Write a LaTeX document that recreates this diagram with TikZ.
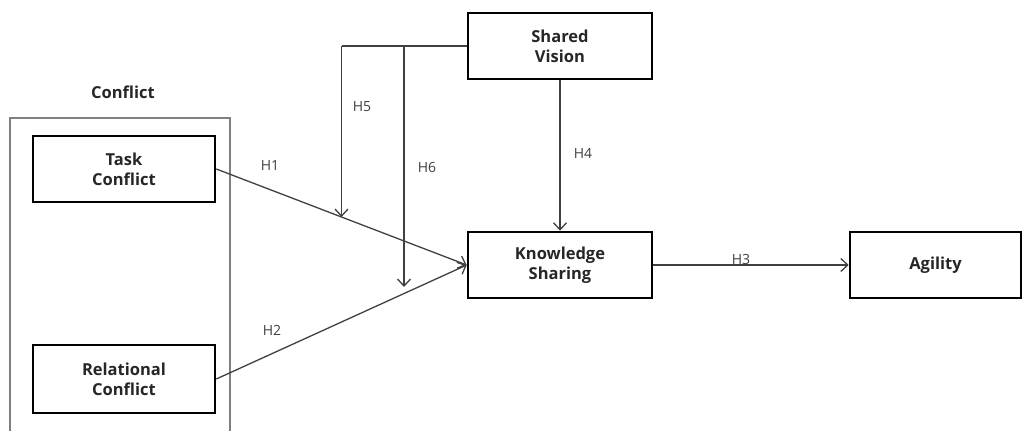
\documentclass[tikz,border=0pt]{standalone}
\usepackage{fontspec}
\setmainfont{Open Sans}
\usetikzlibrary{arrows.meta, positioning}

\begin{document}
\begin{tikzpicture}[
        x=1pt, y=-1pt,
        construct/.style={rectangle, minimum width=184pt, minimum height=66pt, text centered, draw=black, line width=2.6pt, align=center, font=\fontsize{16.5}{20}\selectfont\bfseries, text=black!85},
        hyp/.style={font=\fontsize{14}{16}\selectfont, text=black!75},
        arrow/.style={line width=1.3pt, draw=black!75, -{Straight Barb[length=7pt,width=13pt]}},
        link/.style={line width=1.3pt, draw=black!75}
    ]
        \useasboundingbox (0,0) rectangle (1024,431);

        % Conflict group
        \draw [line width=1.5pt, draw=black!50] (10,431) |- (230,118) -- (230,431);
        \node (conflicthead) [font=\fontsize{16.5}{20}\selectfont\bfseries, text=black!85] at (123,92) {Conflict};
        \node (task) [construct, minimum width=182pt] at (124,169) {Task\\Conflict};
        \node (relational) [construct, minimum width=182pt, minimum height=68pt] at (124,379) {Relational\\Conflict};

        % Mediator, moderator, outcome
        \node (vision) [construct] at (560,46) {Shared\\Vision};
        \node (sharing) [construct] at (560,265) {Knowledge\\Sharing};
        \node (agility) [construct, minimum width=171pt] at (935.5,265) {Agility};

        % Direct paths
        \draw [arrow] (task.east) -- coordinate[pos=0.5] (taskmid) (sharing.west);
        \draw [arrow] (relational.east) -- (sharing.west);
        \draw [arrow] (sharing.east) -- (agility.west);
        \draw [arrow] (vision.south) -- (sharing.north);

        % Moderating paths
        \coordinate (h6end) at (404,287);
        \draw [link] (vision.west) -- (vision.west -| taskmid);
        \draw [arrow] (vision.west -| taskmid) -- (taskmid);
        \draw [arrow] (vision.west -| h6end) -- (h6end);

        % Hypothesis labels
        \node (h1) [hyp] at (270,166) {H1};
        \node (h2) [hyp] at (272,330) {H2};
        \node (h3) [hyp] at (741,259) {H3};
        \node (h4) [hyp] at (583,153) {H4};
        \node (h5) [hyp] at (362,107) {H5};
        \node (h6) [hyp] at (427,167) {H6};

    \end{tikzpicture}
\end{document}
